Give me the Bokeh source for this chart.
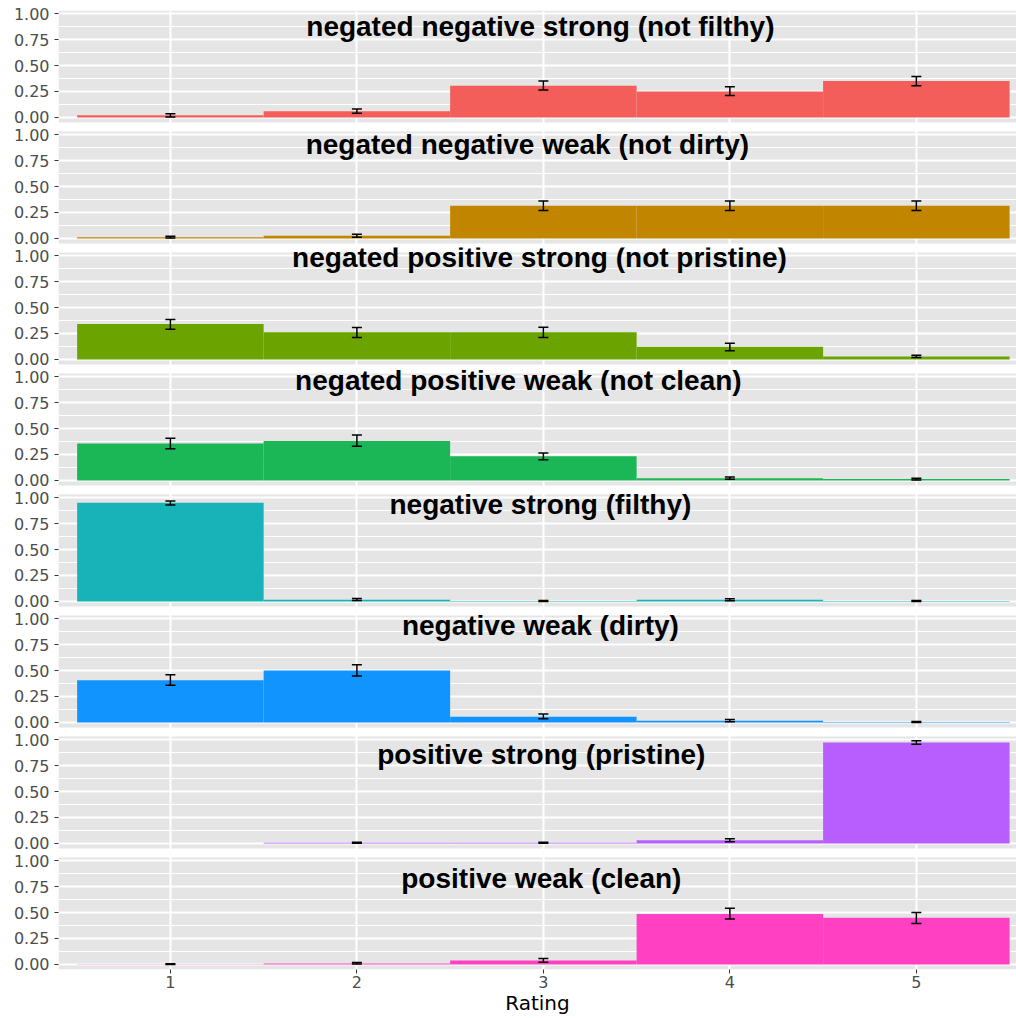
from bokeh.plotting import figure
from bokeh.models import (ColumnDataSource, Range1d, FixedTicker, Grid, Whisker,
                          TeeHead, Label, CustomJSTickFormatter, BoxAnnotation)
from bokeh.layouts import column
from bokeh.embed import file_html
from bokeh.resources import INLINE

nan = float("nan")

# ---------------- data ----------------
ratings = [1, 2, 3, 4, 5]
tick_labels = ["1", "2", "3", "4", "5"]
y_ticks = [0.0, 0.25, 0.5, 0.75, 1.0]

titles = [
    "negated negative strong (not filthy)",
    "negated negative weak (not dirty)",
    "negated positive strong (not pristine)",
    "negated positive weak (not clean)",
    "negative strong (filthy)",
    "negative weak (dirty)",
    "positive strong (pristine)",
    "positive weak (clean)",
]

mean_neg_neg_strong = [0.02, 0.06, 0.305, 0.25, 0.35]
low_neg_neg_strong = [0.005, 0.04, 0.265, 0.21, 0.305]
high_neg_neg_strong = [0.035, 0.08, 0.35, 0.295, 0.395]

mean_neg_neg_weak = [0.012, 0.025, 0.315, 0.315, 0.315]
low_neg_neg_weak = [0.004, 0.012, 0.27, 0.27, 0.27]
high_neg_neg_weak = [0.02, 0.04, 0.36, 0.36, 0.36]

mean_neg_pos_strong = [0.34, 0.262, 0.262, 0.123, 0.029]
low_neg_pos_strong = [0.29, 0.21, 0.21, 0.084, 0.018]
high_neg_pos_strong = [0.385, 0.308, 0.31, 0.155, 0.04]

mean_neg_pos_weak = [0.356, 0.379, 0.233, 0.022, 0.013]
low_neg_pos_weak = [0.305, 0.33, 0.20, 0.012, 0.005]
high_neg_pos_weak = [0.405, 0.437, 0.265, 0.032, 0.022]

mean_neg_strong = [0.951, 0.016, 0.005, 0.015, 0.005]
low_neg_strong = [0.93, 0.008, 0.0, 0.007, 0.0]
high_neg_strong = [0.968, 0.027, 0.01, 0.025, 0.01]

mean_neg_weak = [0.405, 0.50, 0.055, 0.016, 0.004]
low_neg_weak = [0.357, 0.447, 0.035, 0.007, 0.0]
high_neg_weak = [0.46, 0.556, 0.08, 0.027, 0.01]

mean_pos_strong = [nan, 0.006, 0.006, 0.03, 0.972]
low_pos_strong = [nan, 0.001, 0.001, 0.017, 0.955]
high_pos_strong = [nan, 0.011, 0.011, 0.045, 0.988]

mean_pos_weak = [0.002, 0.01, 0.037, 0.485, 0.45]
low_pos_weak = [0.0, 0.004, 0.022, 0.437, 0.395]
high_pos_weak = [0.006, 0.018, 0.058, 0.54, 0.50]

means = [mean_neg_neg_strong, mean_neg_neg_weak, mean_neg_pos_strong, mean_neg_pos_weak,
         mean_neg_strong, mean_neg_weak, mean_pos_strong, mean_pos_weak]
lows = [low_neg_neg_strong, low_neg_neg_weak, low_neg_pos_strong, low_neg_pos_weak,
        low_neg_strong, low_neg_weak, low_pos_strong, low_pos_weak]
highs = [high_neg_neg_strong, high_neg_neg_weak, high_neg_pos_strong, high_neg_pos_weak,
         high_neg_strong, high_neg_weak, high_pos_strong, high_pos_weak]

# ---------------- styles / layout ----------------
colors = ["#F35E5A", "#C18500", "#6BA401", "#1BB655",
          "#18B3B8", "#1294FF", "#B85EFF", "#FF40C2"]
title_x = [2.984, 2.914, 2.979, 2.866, 2.984, 2.984, 2.989, 2.989]
title_y = [0.875, 0.905, 0.985, 0.965, 0.93, 0.93, 0.855, 0.825]

PANEL_BG = "#E5E5E5"
W = 1016
LEFT = 58
Y_LO, Y_HI = -0.049, 1.03          # grey panel extent (data units)
PANEL_PX = 112                      # grey panel height in px
K = PANEL_PX / (Y_HI - Y_LO)        # px per data unit
EXT_TOP, EXT_BOT = 5, 4             # frame extension into the white gap (px)
BORDER = 4
OVERLAP = 8
FIRST_TOP = 10
LAST_BOTTOM = 48

figs = []
n = len(titles)
for i in range(n):
    first = (i == 0)
    last = (i == n - 1)
    ext_t = 0 if first else EXT_TOP
    ext_b = 0 if last else EXT_BOT
    top_b = FIRST_TOP if first else BORDER
    bot_b = LAST_BOTTOM if last else BORDER
    frame_h = PANEL_PX + ext_t + ext_b
    h = top_b + frame_h + bot_b
    p = figure(width=W, height=h, output_backend="svg", toolbar_location=None,
               x_range=Range1d(0.4, 5.537),
               y_range=Range1d(Y_LO - ext_b / K, Y_HI + ext_t / K),
               x_axis_location="below" if last else None,
               min_border_left=LEFT, min_border_right=0,
               min_border_top=top_b, min_border_bottom=bot_b,
               background_fill_color=None, border_fill_color=None,
               outline_line_color=None, tools="")
    if not first:
        p.margin = (-OVERLAP, 0, 0, 0)

    p.add_layout(BoxAnnotation(bottom=Y_LO, top=Y_HI, fill_color=PANEL_BG,
                               fill_alpha=1.0, line_color=None, level="image"))

    # y axis
    yt = FixedTicker(ticks=y_ticks, minor_ticks=[0.125, 0.375, 0.625, 0.875])
    p.yaxis.ticker = yt
    p.yaxis.formatter = CustomJSTickFormatter(code="return tick.toFixed(2);")
    p.yaxis.axis_line_color = None
    p.yaxis.major_tick_line_color = "#333333"
    p.yaxis.major_tick_line_width = 1
    p.yaxis.major_tick_out = 4
    p.yaxis.major_tick_in = 0
    p.yaxis.minor_tick_line_color = None
    p.yaxis.major_label_standoff = 5
    p.yaxis.major_label_text_font = "DejaVu Sans"
    p.yaxis.major_label_text_font_size = "16px"
    p.yaxis.major_label_text_color = "#4D4D4D"

    p.ygrid.ticker = yt
    p.ygrid.grid_line_color = "white"
    p.ygrid.grid_line_width = 2
    p.ygrid.minor_grid_line_color = "white"
    p.ygrid.minor_grid_line_width = 1

    xt = FixedTicker(ticks=ratings, minor_ticks=[])
    if last:
        p.xaxis.ticker = xt
        p.xaxis.major_label_overrides = {r: t for r, t in zip(ratings, tick_labels)}
        p.xaxis.axis_line_color = None
        p.xaxis.major_tick_line_color = "#333333"
        p.xaxis.major_tick_out = 4
        p.xaxis.major_tick_in = 0
        p.xaxis.minor_tick_line_color = None
        p.xaxis.major_label_standoff = 2
        p.xaxis.major_label_text_font = "DejaVu Sans"
        p.xaxis.major_label_text_font_size = "16px"
        p.xaxis.major_label_text_color = "#4D4D4D"
        p.xaxis.axis_label = "Rating"
        p.xaxis.axis_label_standoff = 0
        p.xaxis.axis_label_text_font = "DejaVu Sans"
        p.xaxis.axis_label_text_font_size = "20px"
        p.xaxis.axis_label_text_font_style = "normal"
        p.xaxis.axis_label_text_color = "black"
        p.xgrid.ticker = xt
        p.xgrid.grid_line_color = "white"
        p.xgrid.grid_line_width = 2
    else:
        p.add_layout(Grid(dimension=0, ticker=xt, grid_line_color="white",
                          grid_line_width=2))

    src = ColumnDataSource(dict(x=ratings, top=means[i], lower=lows[i], upper=highs[i]))
    p.vbar(x="x", width=1.0, top="top", bottom=0, source=src,
           fill_color=colors[i], line_color=None)
    wh = Whisker(base="x", lower="lower", upper="upper", source=src,
                 line_color="black", line_width=1.5, level="overlay",
                 upper_head=TeeHead(size=10, line_color="black", line_width=1.5),
                 lower_head=TeeHead(size=10, line_color="black", line_width=1.5))
    p.add_layout(wh)

    p.add_layout(Label(x=title_x[i], y=title_y[i], text=titles[i],
                       text_align="center", text_baseline="alphabetic",
                       text_font="Liberation Sans", text_font_style="bold",
                       text_font_size="28px", text_color="black"))
    figs.append(p)

layout = column(*figs, spacing=0)
open("out.html", "w").write(file_html(layout, INLINE))
